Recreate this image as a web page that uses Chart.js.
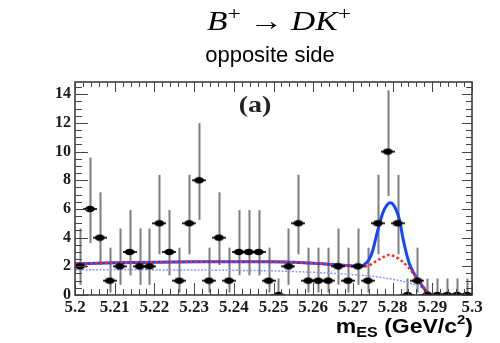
<!DOCTYPE html>
<html><head><meta charset="utf-8">
<script src="https://cdn.jsdelivr.net/npm/chart.js@4/dist/chart.umd.min.js"></script>
<style>html,body{margin:0;padding:0;background:#fff}</style>
</head><body>
<canvas id="c" width="500" height="343"></canvas>
<script>
// ---- text ----
const titleParts = [["B","i"],["+","sup"],[" \u2192 ","r"],["DK","i"],["+","sup"]];
const subtitle = "opposite side";
const panelLabel = "(a)";
const xTitleParts = [["m","n"],["ES","sub"],[" (GeV/c","n"],["2","sup"],[")","n"]];

// ---- axes ----
const xTicks = [5.2,5.21,5.22,5.23,5.24,5.25,5.26,5.27,5.28,5.29,5.3];
const xTickLabels = ["5.2","5.21","5.22","5.23","5.24","5.25","5.26","5.27","5.28","5.29","5.3"];
const yTicks = [0,2,4,6,8,10,12,14];
const yTickLabels = ["0","2","4","6","8","10","12","14"];

// ---- data points (bin centres, counts, error-bar ends) ----
const binCenters = [5.20125,5.20375,5.20625,5.20875,5.21125,5.21375,5.21625,5.21875,5.22125,5.22375,
  5.22625,5.22875,5.23125,5.23375,5.23625,5.23875,5.24125,5.24375,5.24625,5.24875,
  5.25125,5.25375,5.25625,5.25875,5.26125,5.26375,5.26625,5.26875,5.27125,5.27375,
  5.27625,5.27875,5.28125,5.28375,5.28625,5.28875,5.29125,5.29375,5.29625,5.29875];
const counts = [2,6,4,1,2,3,2,2,5,3, 1,5,8,1,4,1,3,3,3,1, 0,2,5,1,1,1,2,1,2,1, 5,10,5,0,1,0,0,0,0,0];
const errLow = [0.71,3.62,2.09,0.17,0.71,1.37,0.71,0.71,2.84,1.37, 0.17,2.84,5.24,0.17,2.09,0.17,1.37,1.37,1.37,0.17,
  0,0.71,2.84,0.17,0.17,0.17,0.71,0.17,0.71,0.17, 2.84,6.90,2.84,0,0.17,0,0,0,0,0];
const errHigh = [4.64,9.58,7.16,3.30,4.64,5.92,4.64,4.64,8.38,5.92, 3.30,8.38,11.98,3.30,7.16,3.30,5.92,5.92,5.92,3.30,
  1.15,4.64,8.38,3.30,3.30,3.30,4.64,3.30,4.64,3.30, 8.38,14.27,8.38,1.15,3.30,1.15,1.15,1.15,1.15,1.15];

// ---- fit curves ----
const totalX = [5.200,5.210,5.220,5.230,5.240,5.250,5.255,5.260,5.265,5.270,5.2716,5.2730,5.2741,5.2750,5.2758,5.2767,5.2775,5.2785,5.2794,5.2803,5.2813,5.2820,5.2825,5.2833,5.2842,5.2855,5.2867,5.2878,5.2888,5.2900,5.3000];
const totalY = [2.18,2.24,2.28,2.31,2.32,2.31,2.28,2.22,2.13,2.02,1.99,2.15,2.50,3.10,4.00,4.95,5.70,6.25,6.43,6.25,5.65,4.90,4.10,3.10,2.20,1.45,0.93,0.50,0.12,0.00,0.00];
const bkgX = [5.200,5.210,5.220,5.230,5.240,5.250,5.255,5.260,5.265,5.270,5.2725,5.2740,5.2752,5.2764,5.2777,5.2789,5.2802,5.2814,5.2826,5.2839,5.2852,5.2864,5.2875,5.2884,5.2900,5.3000];
const bkgY = [2.18,2.24,2.28,2.31,2.32,2.31,2.28,2.22,2.13,2.02,1.98,2.05,2.25,2.45,2.65,2.79,2.72,2.55,2.30,1.95,1.50,1.05,0.65,0.35,0.00,0.00];
const contX = [5.200,5.220,5.240,5.250,5.260,5.270,5.275,5.280,5.284,5.287,5.289,5.290,5.300];
const contY = [1.76,1.75,1.72,1.68,1.58,1.42,1.30,1.10,0.85,0.55,0.30,0.00,0.00];

const pts = (xs, ys) => xs.map((x, i) => ({x, y: ys[i]}));

// marker: black horizontal ellipse with short bar
const marker = document.createElement('canvas');
marker.width = 14; marker.height = 8;
(function(){
  const m = marker.getContext('2d');
  m.fillStyle = '#000';
  m.beginPath(); m.ellipse(7, 4, 5, 3.2, 0, 0, Math.PI*2); m.fill();
  m.fillRect(0, 3.2, 14, 1.6);
})();

const overlay = {
  id: 'overlay',
  beforeDatasetsDraw(chart) {
    const {ctx, scales: {x, y}} = chart;
    ctx.save();
    ctx.strokeStyle = '#7d7d7d'; ctx.lineWidth = 2;
    binCenters.forEach((bx, i) => {
      const px = Math.round(x.getPixelForValue(bx)) + 0.5;
      ctx.beginPath();
      ctx.moveTo(px, y.getPixelForValue(errLow[i]));
      ctx.lineTo(px, y.getPixelForValue(errHigh[i]));
      ctx.stroke();
    });
    ctx.restore();
  },
  afterDraw(chart) {
    const {ctx, chartArea: a, scales: {x, y}} = chart;
    ctx.save();
    // frame
    ctx.strokeStyle = '#333'; ctx.lineWidth = 1.5;
    ctx.strokeRect(a.left, a.top, a.right - a.left, a.bottom - a.top);
    ctx.lineWidth = 1; ctx.strokeStyle = '#444';
    // y ticks (inside, both sides)
    for (let v = 0; v <= 14.8; v += 0.5) {
      const py = Math.round(y.getPixelForValue(v)) + 0.5;
      const major = Math.abs(v % 2) < 1e-6;
      const L = major ? 13 : 7;
      ctx.beginPath();
      ctx.moveTo(a.left, py); ctx.lineTo(a.left + L, py);
      ctx.moveTo(a.right, py); ctx.lineTo(a.right - (major ? 10 : 6), py);
      ctx.stroke();
    }
    // x ticks (inside, top and bottom)
    for (let k = 0; k <= 50; k++) {
      const v = 5.2 + k * 0.002;
      const px = Math.round(x.getPixelForValue(v)) + 0.5;
      const major = k % 5 === 0;
      const L = major ? 12 : 6;
      ctx.beginPath();
      ctx.moveTo(px, a.bottom); ctx.lineTo(px, a.bottom - L);
      ctx.moveTo(px, a.top); ctx.lineTo(px, a.top + (major ? 10 : 5));
      ctx.stroke();
    }
    // title line 1 (math style), stretched to the reference width
    ctx.fillStyle = '#000';
    ctx.textBaseline = 'alphabetic';
    const fMap = {i: 'italic 27px "Liberation Serif"', r: '27px "Liberation Serif"', sup: '19px "Liberation Serif"'};
    let w = 0;
    titleParts.forEach(([t, s]) => { ctx.font = fMap[s]; w += ctx.measureText(t).width; });
    const k1 = 144 / w;
    ctx.save();
    ctx.translate(279 - 72, 0); ctx.scale(k1, 1);
    let cx = 0;
    titleParts.forEach(([t, s]) => {
      ctx.font = fMap[s];
      ctx.fillText(t, cx, s === 'sup' ? 20 : 30);
      cx += ctx.measureText(t).width;
    });
    ctx.restore();
    // title line 2
    ctx.font = '22px "Liberation Sans"';
    ctx.textAlign = 'center';
    ctx.fillText(subtitle, 270, 62);
    // panel label
    ctx.save();
    ctx.translate(255, 112); ctx.scale(1.22, 1);
    ctx.font = 'bold 23px "Liberation Serif"';
    ctx.fillStyle = '#222';
    ctx.fillText(panelLabel, 0, 0);
    ctx.restore();
    // x-axis title, right aligned at frame edge
    const xf = {n: 'bold 20px "Liberation Sans"', sub: 'bold 14px "Liberation Sans"', sup: 'bold 13px "Liberation Sans"'};
    const xb = {n: 333, sub: 337, sup: 324};
    const st = 1.15;
    ctx.textAlign = 'left';
    let tw = 0;
    xTitleParts.forEach(([t, s]) => { ctx.font = xf[s]; tw += ctx.measureText(t).width; });
    ctx.save();
    ctx.translate(473 - tw * st, 0); ctx.scale(st, 1);
    let xx = 0;
    xTitleParts.forEach(([t, s]) => {
      ctx.font = xf[s];
      ctx.fillText(t, xx, xb[s]);
      xx += ctx.measureText(t).width;
    });
    ctx.restore();
    ctx.restore();
  }
};

new Chart(document.getElementById('c'), {
  type: 'scatter',
  data: {
    datasets: [
      {label: 'data', data: pts(binCenters, counts), pointStyle: marker, pointRadius: 5, showLine: false, order: 0},
      {label: 'bkg', data: pts(bkgX, bkgY), showLine: true, borderColor: '#ff2a2a', borderWidth: 2.6, borderDash: [2.5, 2.5], pointRadius: 0, cubicInterpolationMode: 'monotone', order: 1},
      {label: 'total', data: pts(totalX, totalY), showLine: true, borderColor: '#1446ff', borderWidth: 3, pointRadius: 0, cubicInterpolationMode: 'monotone', order: 2},
      {label: 'continuum', data: pts(contX, contY), showLine: true, borderColor: '#8d96ff', borderWidth: 1.5, borderDash: [2, 1.5], pointRadius: 0, cubicInterpolationMode: 'monotone', order: 3}
    ]
  },
  options: {
    responsive: false,
    animation: false,
    devicePixelRatio: 1,
    layout: {padding: {left: 0, right: 28, top: 82, bottom: 0}},
    plugins: {legend: {display: false}, tooltip: {enabled: false}},
    scales: {
      x: {
        type: 'linear', min: 5.2, max: 5.3,
        grid: {display: false, drawTicks: false},
        border: {display: false},
        afterBuildTicks: s => { s.ticks = xTicks.map(v => ({value: v})); },
        afterFit: s => { s.height = 48; },
        ticks: {
          autoSkip: false, maxRotation: 0, padding: 2, color: '#1a1a1a',
          font: {family: '"Liberation Serif"', size: 17, weight: 'bold'},
          callback: (v, i) => xTickLabels[i]
        }
      },
      y: {
        type: 'linear', min: 0, max: 14.85,
        grid: {display: false, drawTicks: false},
        border: {display: false},
        afterBuildTicks: s => { s.ticks = yTicks.map(v => ({value: v})); },
        afterFit: s => { s.width = 75; },
        ticks: {
          padding: 4, color: '#1a1a1a',
          font: {family: '"Liberation Serif"', size: 16, weight: 'bold'},
          callback: (v, i) => yTickLabels[i]
        }
      }
    }
  },
  plugins: [overlay]
});
</script>
</body></html>
